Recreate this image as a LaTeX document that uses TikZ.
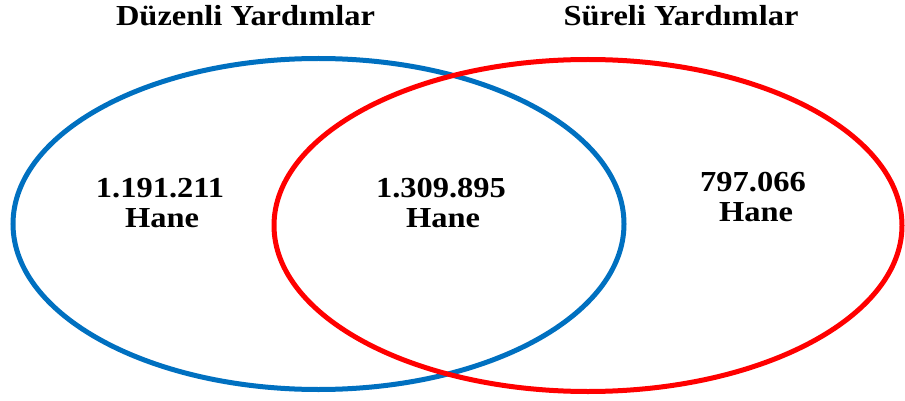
\documentclass[tikz,border=0pt]{standalone}
\usepackage{fontspec}
\setmainfont{Liberation Serif}[FakeStretch=1.12]
\definecolor{vblue}{RGB}{0,112,192}
\definecolor{vred}{RGB}{255,0,0}
\begin{document}
\begin{tikzpicture}[x=1pt,y=-1pt,
  ring/.style={line width=5pt},
  lbl/.style={font=\fontsize{29}{31}\selectfont\bfseries, anchor=base, inner sep=0pt}]
\useasboundingbox (0,0) rectangle (905,401);
\draw[ring, vblue] (318.5,224) ellipse [x radius=305.5, y radius=165.5];
\draw[ring, vred] (588,225.5) ellipse [x radius=314, y radius=166];
\node[lbl] (t1) at (245.5,26) {Düzenli Yardımlar};
\node[lbl] (t2) at (681,26) {Süreli Yardımlar};
\node[lbl] (n1) at (160,197) {1.191.211};
\node[lbl] (h1) at (162,227) {Hane};
\node[lbl] (n2) at (441,197) {1.309.895};
\node[lbl] (h2) at (443,227) {Hane};
\node[lbl] (n3) at (753,191) {797.066};
\node[lbl] (h3) at (756,221) {Hane};
\end{tikzpicture}
\end{document}
